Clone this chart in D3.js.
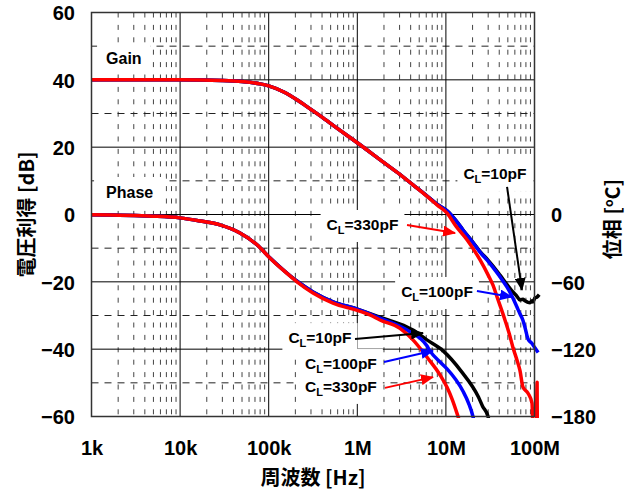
<!DOCTYPE html>
<html><head><meta charset="utf-8">
<script src="https://cdn.jsdelivr.net/npm/d3@7"></script>
<style>
body{margin:0;background:#fff}
svg text{font-family:"Liberation Sans",Arial,sans-serif;font-weight:bold;fill:#000}
svg text.cjk{font-family:"Noto Sans CJK JP","Liberation Sans",sans-serif}
</style></head><body>
<svg id="chart" width="636" height="494"></svg>
<script>
// ---- axes ----
const freqTicks = [1e3, 1e4, 1e5, 1e6, 1e7, 1e8];
const freqTickLabels = ["1k", "10k", "100k", "1M", "10M", "100M"];
const gainTicks = [60, 40, 20, 0, -20, -40, -60];
const phaseTicks = [0, -60, -120, -180];

// ---- gain [dB] vs frequency [Hz] ----
const gainCL330 = [[1e3,40],[1e4,40],[3e4,39.8],[5e4,39.5],[8e4,38.8],[1e5,38.2],[1.5e5,36.3],[2.1e5,34],[3e5,31.2],[4.1e5,28.7],[6e5,25.5],[1e6,21.3],[2e6,15.4],[3e6,12],[4.25e6,8.8],[6e6,5.6],[8e6,2.8],[1.03e7,0.4],[1.3e7,-3.5],[1.73e7,-7.5],[2.43e7,-13.5],[3e7,-18],[3.4e7,-21],[3.78e7,-24.5],[4.65e7,-31.4],[5.2e7,-35.5],[5.7e7,-39.4],[6.3e7,-43],[6.85e7,-46.3],[7.4e7,-51.2],[8.45e7,-53.1],[9.37e7,-56],[9.6e7,-62],[1.05e8,-62],[1.07e8,-49.8],[1.075e8,-62]];
const gainCL100 = [[1e3,40],[1e4,40],[3e4,39.8],[5e4,39.5],[8e4,38.8],[1e5,38.2],[1.5e5,36.3],[2.1e5,34],[3e5,31.2],[4.1e5,28.7],[6e5,25.5],[1e6,21.3],[2e6,15.4],[3e6,12],[4.25e6,8.8],[6e6,5.7],[8e6,3.0],[1.03e7,1.1],[1.3e7,-1.8],[1.56e7,-4.6],[2e7,-8.2],[2.43e7,-11.2],[3e7,-13.9],[3.4e7,-15.7],[4.08e7,-18.5],[4.9e7,-21.6],[5.7e7,-24.8],[6.34e7,-27.5],[6.85e7,-29.5],[7.4e7,-31.4],[7.8e7,-33.5],[8.45e7,-37],[9.37e7,-38.3],[1.01e8,-39.6],[1.1e8,-41]];
const gainCL10 = [[1e3,40],[1e4,40],[3e4,39.8],[5e4,39.5],[8e4,38.8],[1e5,38.2],[1.5e5,36.3],[2.1e5,34],[3e5,31.2],[4.1e5,28.7],[6e5,25.5],[1e6,21.3],[2e6,15.4],[3e6,12],[4.25e6,8.8],[6e6,5.7],[8e6,3.0],[1.03e7,1.1],[1.3e7,-1.8],[1.56e7,-4.6],[2e7,-8.1],[2.43e7,-11],[3e7,-13.6],[3.4e7,-15.3],[4.08e7,-18],[4.9e7,-20.8],[5.7e7,-23],[6.34e7,-24.3],[6.85e7,-25.4],[7.4e7,-25.2],[7.8e7,-25.6],[8.45e7,-26.1],[8.9e7,-26.2],[9.37e7,-25.6],[9.6e7,-26],[1.01e8,-24.8],[1.06e8,-24.6],[1.13e8,-23.8]];

// ---- phase [deg] vs frequency [Hz] ----
const phaseCL330 = [[1e3,-0.3],[5e3,-1.5],[1e4,-3],[1.68e4,-5.8],[2.82e4,-9.3],[4.74e4,-16.5],[7.38e4,-27],[1.03e5,-38.7],[1.45e5,-49.4],[2.09e5,-60],[3.16e5,-70],[5.32e5,-79],[1e6,-85.5],[1.39e6,-89.5],[1.8e6,-94],[3.03e6,-101.5],[4.25e6,-111.7],[6.1e6,-127],[8.6e6,-143],[1.03e7,-154],[1.18e7,-165],[1.37e7,-180],[1.45e7,-186]];
const phaseCL100 = [[1e3,-0.3],[5e3,-1.5],[1e4,-3],[1.68e4,-5.8],[2.82e4,-9.3],[4.74e4,-16.5],[7.38e4,-27],[1.03e5,-38.6],[1.45e5,-49.2],[2.09e5,-59.5],[3.16e5,-69],[5.32e5,-77.8],[1e6,-84.3],[1.8e6,-92.3],[3.64e6,-103],[6.1e6,-117],[6.6e6,-121.5],[8.6e6,-131.5],[1.03e7,-137.5],[1.56e7,-157.5],[1.8e7,-168],[2.02e7,-180],[2.1e7,-186]];
const phaseCL10 = [[1e3,-0.3],[5e3,-1.5],[1e4,-3],[1.68e4,-5.8],[2.82e4,-9.3],[4.74e4,-16.5],[7.38e4,-27],[1.03e5,-38.6],[1.45e5,-49.2],[2.09e5,-59.5],[3.16e5,-69],[5.32e5,-77.8],[1e6,-84.3],[1.8e6,-91.5],[3.64e6,-100.2],[4.25e6,-103],[6.1e6,-111.7],[9.3e6,-121.5],[1.5e7,-140],[2.33e7,-162.6],[2.6e7,-171],[2.99e7,-180],[3.1e7,-186]];

const seriesColors = {cl10: "#000000", cl100: "#0000ff", cl330: "#ff0000"};

// callouts: label baseline centre and arrow in (frequency, dB) units
const callouts = [
  {cap: "10pF",  color: seriesColors.cl10,  at: [3.58e7, 10.55], from: [4.9e7, 8.2],   to: [7.22e7, -22.4]},
  {cap: "330pF", color: seriesColors.cl330, at: [1.145e6, -4.6], from: [3.64e6, -3.1], to: [1.27e7, -5.5]},
  {cap: "100pF", color: seriesColors.cl100, at: [7.94e6, -24.5], from: [2.24e7, -22.7], to: [5.57e7, -24.5]},
  {cap: "10pF",  color: seriesColors.cl10,  at: [3.79e5, -38.2], from: [9.42e5, -37.0], to: [5.52e6, -35.2]},
  {cap: "100pF", color: seriesColors.cl100, at: [6.54e5, -45.9], from: [2.0e6, -43.8],  to: [7.15e6, -40.5]},
  {cap: "330pF", color: seriesColors.cl330, at: [6.54e5, -52.7], from: [2.05e6, -51.5], to: [7.15e6, -48.3]}
];

const svg = d3.select("#chart");
const L = 91.5, R = 534.5, T = 12.5, B = 416.5;

const x = d3.scaleLog().domain([1e3, 1e8]).range([L, R]);
const y = d3.scaleLinear().domain([-60, 60]).range([B, T]);
const yP = d3.scaleLinear().domain([-180, 180]).range([B, T]);

// ---- grid ----
const grid = svg.append("g");
const minorFreqs = [];
for (let d = 1e3; d < 1e8; d *= 10) for (let k = 2; k <= 9; k++) minorFreqs.push(d * k);
grid.selectAll(".vminor").data(minorFreqs).join("line")
  .attr("x1", d => x(d)).attr("x2", d => x(d)).attr("y1", T).attr("y2", B)
  .attr("stroke", "#444").attr("stroke-width", 1).attr("stroke-dasharray", "5,7.4");
const halfSteps = d3.range(-50, 60, 20);
grid.selectAll(".hdash").data(halfSteps).join("line")
  .attr("x1", L).attr("x2", R).attr("y1", d => y(d)).attr("y2", d => y(d))
  .attr("stroke", "#222").attr("stroke-width", 1).attr("stroke-dasharray", "7,6");
grid.selectAll(".hmajor").data([40, 20, 0, -20, -40]).join("line")
  .attr("x1", L).attr("x2", R).attr("y1", d => y(d)).attr("y2", d => y(d))
  .attr("stroke", "#000").attr("stroke-width", 1);
grid.selectAll(".vmajor").data(freqTicks.slice(1, -1)).join("line")
  .attr("x1", d => x(d)).attr("x2", d => x(d)).attr("y1", T).attr("y2", B)
  .attr("stroke", "#000").attr("stroke-width", 1);

// ---- white label backgrounds are added after measuring text ----
const boxes = svg.append("g");
const texts = svg.append("g");

function placeBox(node, px, py) {
  const b = node.getBBox();
  boxes.append("rect").attr("x", b.x - px).attr("y", b.y - py)
    .attr("width", b.width + 2 * px).attr("height", b.height + 2 * py).attr("fill", "#fff");
}

const gainLbl = texts.append("text").attr("x", x(1.46e3)).attr("y", y(44.7))
  .attr("font-size", 16).text("Gain");
placeBox(gainLbl.node(), 9, 5);
const phaseLbl = texts.append("text").attr("x", x(1.46e3)).attr("y", y(4.9))
  .attr("font-size", 16).text("Phase");
placeBox(phaseLbl.node(), 12, 7);

callouts.forEach(c => {
  const t = texts.append("text").attr("x", x(c.at[0])).attr("y", y(c.at[1]))
    .attr("text-anchor", "middle").attr("font-size", 15.5);
  t.append("tspan").text("C");
  t.append("tspan").attr("font-size", 11).attr("dy", 4).text("L");
  t.append("tspan").attr("dy", -4).text("=" + c.cap);
  placeBox(t.node(), 6, 6);
});

// ---- curves ----
const clip = svg.append("clipPath").attr("id", "plotClip").append("rect")
  .attr("x", L).attr("y", T - 2).attr("width", R - L + 8).attr("height", B - T + 3.5);
const curves = svg.append("g").attr("clip-path", "url(#plotClip)");
const gainLine = d3.line().x(d => x(d[0])).y(d => y(d[1])).curve(d3.curveMonotoneX);
const phaseLine = d3.line().x(d => x(d[0])).y(d => yP(d[1])).curve(d3.curveMonotoneX);
[[gainCL10, phaseCL10, seriesColors.cl10], [gainCL100, phaseCL100, seriesColors.cl100], [gainCL330, phaseCL330, seriesColors.cl330]]
  .forEach(([g, p, col]) => {
    curves.append("path").datum(g).attr("d", gainLine).attr("fill", "none")
      .attr("stroke", col).attr("stroke-width", 3.5).attr("stroke-linejoin", "round");
    curves.append("path").datum(p).attr("d", phaseLine).attr("fill", "none")
      .attr("stroke", col).attr("stroke-width", 3.5).attr("stroke-linejoin", "round");
  });

// ---- frame ----
svg.append("rect").attr("x", L).attr("y", T).attr("width", R - L).attr("height", B - T)
  .attr("fill", "none").attr("stroke", "#333").attr("stroke-width", 1.5);

// ---- callout arrows ----
const defs = svg.append("defs");
Object.entries(seriesColors).forEach(([k, col]) => {
  defs.append("marker").attr("id", "head-" + k).attr("markerUnits", "userSpaceOnUse")
    .attr("markerWidth", 13).attr("markerHeight", 11).attr("refX", 12).attr("refY", 5.5)
    .attr("orient", "auto")
    .append("path").attr("d", "M0,0L13,5.5L0,11Z").attr("fill", col);
});
const colorKey = col => Object.keys(seriesColors).find(k => seriesColors[k] === col);
svg.append("g").selectAll("line").data(callouts).join("line")
  .attr("x1", d => x(d.from[0])).attr("y1", d => y(d.from[1]))
  .attr("x2", d => x(d.to[0])).attr("y2", d => y(d.to[1]))
  .attr("stroke", d => d.color).attr("stroke-width", 2)
  .attr("marker-end", d => "url(#head-" + colorKey(d.color) + ")");

// ---- axes ----
const axFont = 20;
const xAxis = svg.append("g").attr("transform", `translate(0,${B})`)
  .call(d3.axisBottom(x).tickValues(freqTicks).tickFormat((d, i) => freqTickLabels[i]).tickSize(0));
xAxis.select(".domain").remove();
xAxis.selectAll("text").attr("y", 31).attr("dy", "0.36em").attr("font-size", axFont)
  .attr("font-family", null);

const yAxis = svg.append("g").attr("transform", `translate(${L},0)`)
  .call(d3.axisLeft(y).tickValues(gainTicks).tickSize(0).tickPadding(16.5));
yAxis.select(".domain").remove();
yAxis.selectAll("text").attr("dy", "0.36em").attr("font-size", axFont).attr("font-family", null);

const pAxis = svg.append("g").attr("transform", `translate(${R},0)`)
  .call(d3.axisRight(yP).tickValues(phaseTicks).tickSize(0).tickPadding(16.5));
pAxis.select(".domain").remove();
pAxis.selectAll("text").attr("dy", "0.36em").attr("font-size", axFont).attr("font-family", null);

// ---- axis titles ----
svg.append("text").attr("class", "cjk").attr("font-size", 20).attr("text-anchor", "middle")
  .attr("transform", `translate(27,${(T + B) / 2 + 0}) rotate(-90)`).attr("dy", "0.35em")
  .text("電圧利得 [dB]");
svg.append("text").attr("class", "cjk").attr("font-size", 20).attr("text-anchor", "middle")
  .attr("x", (L + R) / 2).attr("y", 478).attr("dy", "0.35em").text("周波数 [Hz]");
const pt = svg.append("text").attr("class", "cjk").attr("font-size", 20).attr("text-anchor", "middle")
  .attr("transform", `translate(613,219) rotate(-90)`).attr("dy", "0.35em");
pt.append("tspan").text("位相 [");
pt.append("tspan").attr("font-size", 12).attr("dy", -7).text("o");
pt.append("tspan").attr("dy", 7).text("C]");
</script>
</body></html>
